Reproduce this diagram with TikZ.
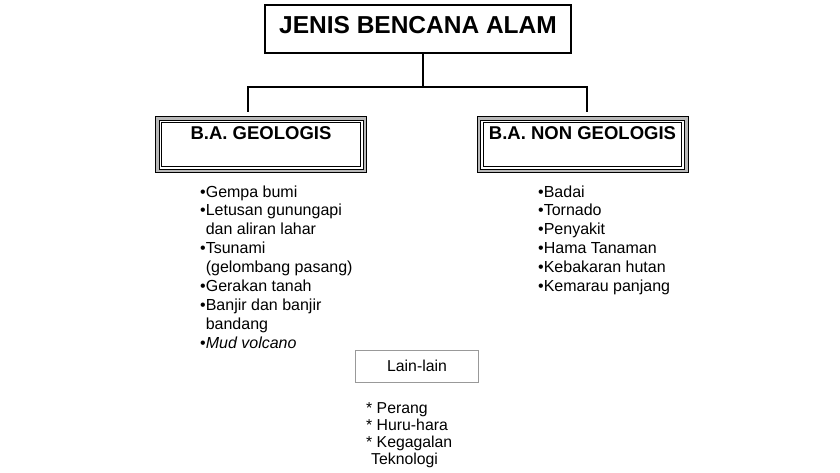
\documentclass[tikz,border=0pt]{standalone}
\usepackage{fontspec}
\setmainfont{Liberation Sans}
\begin{document}
\begin{tikzpicture}[x=1pt,y=-1pt,
  conn/.style={line width=1.8pt, black, line join=miter},
  titlebox/.style={draw, line width=2pt, inner sep=0pt, font=\fontsize{24.5}{28}\selectfont\bfseries, minimum width=306pt, text height=28pt, text depth=20pt},
  geobox/.style={draw=black, line width=1pt, double=gray!55, double distance=2.5pt, inner sep=0pt, font=\fontsize{18.5}{21}\selectfont\bfseries, minimum width=207.5pt, text height=20.75pt, text depth=31.75pt},
  innerframe/.style={line width=1.1pt, black},
  otherbox/.style={draw=gray!80, line width=1pt, inner sep=0pt, minimum width=123pt, text height=20.5pt, text depth=11.5pt, font=\fontsize{15.8}{17}\selectfont},
  listtext/.style={inner sep=0pt, anchor=base west, font=\fontsize{16}{18.9}\selectfont},
]
\useasboundingbox[fill=white] (0,0) rectangle (840,472);

\node[titlebox, anchor=base] (title) at (418,33) {JENIS BENCANA ALAM};
\node[geobox, anchor=base] (geo) at (261,139) {B.A. GEOLOGIS};
\node[geobox, anchor=base] (nongeo) at (582.5,139) {B.A. NON GEOLOGIS};
\draw[innerframe] ([shift={(5,5)}]geo.north west) rectangle ([shift={(-5,-5)}]geo.south east);
\draw[innerframe] ([shift={(5,5)}]nongeo.north west) rectangle ([shift={(-5,-5)}]nongeo.south east);

\coordinate (jc) at (423,87);
\coordinate (jl) at (248,87);
\coordinate (jr) at (587,87);
\draw[conn] (title.south -| jc) -- (jc);
\draw[conn, shorten <=6pt, shorten >=6pt] (jl |- geo.north) -- (jl) -- (jr) -- (jr |- nongeo.north);

\node[listtext] (geolist) at (200,197) {\begin{tabular}[t]{@{}l@{}}
•Gempa bumi\\
•Letusan gunungapi\\
\phantom{•}dan aliran lahar\\
•Tsunami\\
\phantom{•}(gelombang pasang)\\
•Gerakan tanah\\
•Banjir dan banjir\\
\phantom{•}bandang\\
•\textit{Mud volcano}
\end{tabular}};

\node[listtext] (nongeolist) at (538,197) {\begin{tabular}[t]{@{}l@{}}
•Badai\\
•Tornado\\
•Penyakit\\
•Hama Tanaman\\
•Kebakaran hutan\\
•Kemarau panjang
\end{tabular}};

\node[otherbox, anchor=base] (other) at (417,371) {Lain-lain};
\node[listtext, font=\fontsize{15.8}{17}\selectfont] (otherlist) at (366,413) {\begin{tabular}[t]{@{}l@{}}
{*} Perang\\
{*} Huru-hara\\
{*} Kegagalan\\
\hspace*{5pt}Teknologi
\end{tabular}};
\end{tikzpicture}
\end{document}
